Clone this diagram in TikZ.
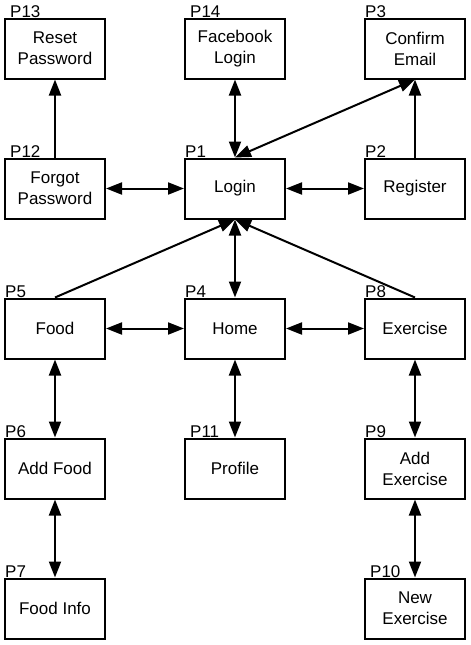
\documentclass[tikz,border=0pt]{standalone}
\usepackage{fontspec}
\setmainfont{Liberation Sans}
\usetikzlibrary{arrows.meta}
\begin{document}
\begin{tikzpicture}[x=1pt,y=-1pt,
  pg/.style={draw, line width=2pt, minimum width=100pt, minimum height=60pt, align=center, inner sep=0pt, font=\fontsize{17}{21}\selectfont},
  lbl/.style={anchor=base west, inner sep=0pt, font=\fontsize{17}{17}\selectfont},
  tip/.tip={Triangle[length=16pt,width=12pt]},
  dbl/.style={tip-tip, line width=2pt},
  one/.style={-tip, line width=2pt}]
\useasboundingbox (0,0) rectangle (471,645);
% boxes
\node[pg] (p13) at (55,48.5) {Reset\\Password};
\node[pg] (p14) at (235,48.5) {Facebook\\Login};
\node[pg] (p3) at (415,48.5) {Confirm\\Email};
\node[pg] (p12) at (55,188.5) {Forgot\\Password};
\node[pg] (p1) at (235,188.5) {Login};
\node[pg] (p2) at (415,188.5) {Register};
\node[pg] (p5) at (55,328.5) {Food};
\node[pg] (p4) at (235,328.5) {Home};
\node[pg] (p8) at (415,328.5) {Exercise};
\node[pg] (p6) at (55,468.5) {Add Food};
\node[pg] (p11) at (235,468.5) {Profile};
\node[pg] (p9) at (415,468.5) {Add\\Exercise};
\node[pg] (p7) at (55,608.5) {Food Info};
\node[pg] (p10) at (415,608.5) {New\\Exercise};
% labels
\node[lbl] (l13) at (10,17.5) {P13};
\node[lbl] (l14) at (190,17.5) {P14};
\node[lbl] (l3) at (365,17.5) {P3};
\node[lbl] (l12) at (10,157.5) {P12};
\node[lbl] (l1) at (185,157.5) {P1};
\node[lbl] (l2) at (365,157.5) {P2};
\node[lbl] (l5) at (5,297.5) {P5};
\node[lbl] (l4) at (185,297.5) {P4};
\node[lbl] (l8) at (365,297.5) {P8};
\node[lbl] (l6) at (5,437.5) {P6};
\node[lbl] (l11) at (190,437.5) {P11};
\node[lbl] (l9) at (365,437.5) {P9};
\node[lbl] (l7) at (5,577.5) {P7};
\node[lbl] (l10) at (370,577.5) {P10};
% connectors
\draw[one] (p12) -- (p13);
\draw[dbl] (p1) -- (p14);
\draw[dbl] (p1.north) -- (p3.south);
\draw[one] (p2) -- (p3);
\draw[dbl] (p12) -- (p1);
\draw[dbl] (p1) -- (p2);
\draw[one] (p5.north) -- (p1.south);
\draw[one] (p8.north) -- (p1.south);
\draw[dbl] (p1) -- (p4);
\draw[dbl] (p5) -- (p4);
\draw[dbl] (p4) -- (p8);
\draw[dbl] (p5) -- (p6);
\draw[dbl] (p4) -- (p11);
\draw[dbl] (p8) -- (p9);
\draw[dbl] (p6) -- (p7);
\draw[dbl] (p9) -- (p10);
\end{tikzpicture}
\end{document}
